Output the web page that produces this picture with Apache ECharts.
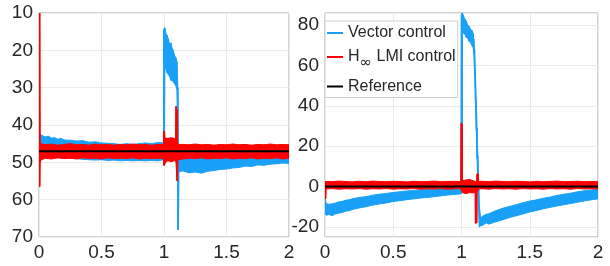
<!DOCTYPE html>
<html>
<head>
<meta charset="utf-8">
<script src="https://cdn.jsdelivr.net/npm/echarts@6/dist/echarts.min.js"></script>
<style>
  html, body { margin: 0; padding: 0; background: #fff; }
  #chart-container { width: 610px; height: 266px; }
</style>
</head>
<body>
<div id="chart-container"></div>
<script>
// series names
var nameVector = 'Vector control';
var nameHinf = 'H\u221e LMI control';
var nameRef = 'Reference';

// tick labels
var xTicks = [0, 0.5, 1, 1.5, 2];
var leftYTicks = [10, 20, 30, 40, 50, 60, 70];
var rightYTicks = [-20, 0, 20, 40, 60, 80];

// reference levels
var leftRef = 47;
var rightRef = 0;

// band envelopes: [t, low value, high value]
// left panel, vector control
var leftVector = [
  [0.000, 40.0, 49.0], [0.004, 42.5, 48.5], [0.025, 42.8, 48.4], [0.050, 43.2, 48.6],
  [0.075, 43.0, 48.5], [0.100, 43.5, 48.6], [0.125, 43.4, 48.7], [0.150, 43.8, 48.6],
  [0.175, 43.6, 48.8], [0.200, 44.0, 48.7], [0.250, 44.1, 48.9], [0.300, 44.3, 49.0],
  [0.350, 44.2, 49.2], [0.400, 44.6, 49.3], [0.450, 44.5, 49.4], [0.500, 44.8, 49.3],
  [0.550, 44.9, 49.5], [0.600, 45.0, 49.4], [0.650, 45.2, 49.6], [0.700, 45.0, 49.5],
  [0.750, 45.2, 49.6], [0.800, 45.0, 49.5], [0.850, 44.8, 49.6], [0.900, 45.0, 49.5],
  [0.950, 44.7, 49.6], [0.996, 44.8, 49.3],
  [0.999, 14.5, 49.0], [1.004, 14.0, 49.0], [1.007, 14.0, 24.0], [1.015, 15.5, 25.0],
  [1.025, 16.0, 26.0], [1.035, 17.0, 26.5], [1.045, 18.5, 27.0], [1.055, 18.0, 28.0],
  [1.065, 19.5, 28.0], [1.075, 20.0, 28.5], [1.085, 21.5, 29.0], [1.095, 22.0, 29.5],
  [1.103, 23.0, 30.5], [1.108, 27.0, 40.0], [1.111, 30.0, 68.0], [1.116, 47.0, 68.0],
  [1.120, 47.2, 52.5],
  [1.150, 47.3, 52.3], [1.200, 47.2, 52.8], [1.250, 47.3, 52.6], [1.300, 47.2, 52.9],
  [1.350, 47.3, 52.4], [1.400, 47.2, 52.2], [1.450, 47.3, 51.9], [1.500, 47.2, 51.8],
  [1.550, 47.3, 51.5], [1.600, 47.2, 51.4], [1.650, 47.3, 51.0], [1.700, 47.2, 51.1],
  [1.750, 47.3, 50.7], [1.800, 47.2, 50.8], [1.850, 47.3, 50.5], [1.900, 47.2, 50.4],
  [1.950, 47.3, 50.2], [2.000, 47.2, 50.3]
];

// left panel, H-infinity LMI control
var leftHinf = [
  [0.000, 10.0, 56.5], [0.006, 10.0, 56.5], [0.009, 45.0, 50.0], [0.015, 45.0, 49.4],
  [0.050, 45.3, 48.9],
  [0.100, 45.1, 49.1], [0.150, 45.4, 48.8], [0.200, 45.2, 49.0], [0.250, 45.0, 48.9],
  [0.300, 45.3, 49.1], [0.350, 45.2, 48.8], [0.400, 45.4, 49.0], [0.450, 45.1, 48.9],
  [0.500, 45.3, 49.1], [0.550, 45.2, 48.8], [0.600, 45.4, 49.0], [0.650, 45.2, 48.9],
  [0.700, 45.3, 49.0], [0.750, 45.1, 48.8], [0.800, 45.3, 49.1], [0.850, 45.2, 48.9],
  [0.900, 45.4, 49.0], [0.950, 45.2, 48.9], [0.995, 45.3, 49.0],
  [0.998, 41.7, 50.8], [1.004, 41.7, 50.8], [1.008, 43.5, 50.2], [1.030, 43.6, 49.6],
  [1.060, 43.4, 49.8], [1.090, 43.7, 49.5], [1.093, 43.8, 49.6], [1.096, 35.0, 50.0],
  [1.104, 36.0, 55.0], [1.108, 44.0, 55.0], [1.112, 45.2, 49.3], [1.150, 45.2, 49.1],
  [1.200, 45.3, 48.9], [1.250, 45.1, 49.0], [1.300, 45.3, 48.8], [1.350, 45.2, 49.1],
  [1.400, 45.4, 48.9], [1.450, 45.2, 49.0], [1.500, 45.3, 48.8], [1.550, 45.1, 49.1],
  [1.600, 45.3, 48.9], [1.650, 45.2, 49.0], [1.700, 45.4, 48.8], [1.750, 45.2, 49.1],
  [1.800, 45.3, 48.9], [1.850, 45.1, 49.0], [1.900, 45.3, 48.8], [1.950, 45.2, 49.1],
  [2.000, 45.3, 48.9]
];

// right panel, vector control
var rightVector = [
  [0.000, -13.5, -6.0], [0.010, -14.2, -8.5], [0.030, -13.8, -8.8], [0.050, -14.5, -8.6],
  [0.075, -13.6, -8.2], [0.100, -13.2, -7.6], [0.125, -12.9, -7.4], [0.150, -12.2, -6.8],
  [0.175, -12.0, -6.6], [0.200, -11.4, -6.1], [0.250, -10.6, -5.4], [0.300, -10.0, -5.0],
  [0.350, -9.2, -4.3], [0.400, -8.6, -3.8], [0.450, -8.1, -3.4], [0.500, -7.4, -2.9],
  [0.550, -7.0, -2.6], [0.600, -6.5, -2.2], [0.650, -6.1, -1.9], [0.700, -5.7, -1.6],
  [0.750, -5.4, -1.4], [0.800, -5.0, -1.2], [0.850, -4.6, -0.9], [0.900, -4.2, -0.7],
  [0.950, -3.9, -0.5], [0.996, -3.6, -0.3],
  [0.999, -3.5, 85.0], [1.004, -3.0, 86.0], [1.007, 77.0, 86.0], [1.015, 76.0, 84.5],
  [1.025, 75.5, 83.0], [1.035, 74.0, 82.0], [1.045, 73.5, 80.0], [1.055, 72.0, 79.5],
  [1.065, 71.5, 78.0], [1.075, 70.0, 77.5], [1.085, 69.0, 76.0], [1.090, 66.0, 73.0],
  [1.096, 55.0, 68.0], [1.102, 42.0, 56.0], [1.108, 28.0, 43.0], [1.114, 14.0, 29.0],
  [1.120, 0.0, 15.0], [1.126, -12.0, 2.0], [1.131, -20.0, -10.0], [1.140, -19.5, -15.5],
  [1.160, -19.0, -14.5], [1.180, -18.0, -13.8],
  [1.200, -18.6, -13.5], [1.250, -17.5, -12.0], [1.300, -16.5, -10.8], [1.350, -15.4, -9.9],
  [1.400, -14.5, -9.0], [1.450, -13.6, -8.0], [1.500, -12.6, -7.2], [1.550, -11.9, -6.6],
  [1.600, -11.0, -5.8], [1.650, -10.3, -5.2], [1.700, -9.6, -4.4], [1.750, -9.0, -3.8],
  [1.800, -8.4, -3.3], [1.850, -7.8, -2.6], [1.900, -7.1, -2.1], [1.950, -6.6, -1.7],
  [2.000, -6.1, -1.3]
];

// right panel, H-infinity LMI control
var rightHinf = [
  [0.000, -6.0, 2.5], [0.005, -6.0, 2.5], [0.008, -1.2, 2.6], [0.050, -1.0, 2.4],
  [0.100, -1.3, 2.7],
  [0.150, -1.1, 2.5], [0.200, -1.2, 2.3], [0.250, -1.0, 2.6], [0.300, -1.3, 2.4],
  [0.350, -1.1, 2.7], [0.400, -1.2, 2.5], [0.450, -1.0, 2.4], [0.500, -1.3, 2.6],
  [0.550, -1.1, 2.5], [0.600, -1.2, 2.3], [0.650, -1.0, 2.6], [0.700, -1.3, 2.4],
  [0.750, -1.1, 2.5], [0.800, -1.2, 2.7], [0.850, -1.0, 2.4], [0.900, -1.3, 2.5],
  [0.950, -1.1, 2.6], [0.995, -1.0, 2.4],
  [0.998, -2.0, 31.5], [1.004, -2.0, 31.0], [1.007, -3.0, 3.0], [1.030, -3.5, 3.2],
  [1.060, -3.0, 3.5], [1.090, -3.2, 2.8], [1.100, -2.5, 2.5], [1.102, -18.2, 2.5],
  [1.112, -18.0, 2.5], [1.114, -2.5, 6.3], [1.122, -2.0, 6.2], [1.125, -1.2, 2.5],
  [1.150, -1.1, 2.6],
  [1.200, -1.3, 2.4], [1.250, -1.0, 2.7], [1.300, -1.2, 2.5], [1.350, -1.1, 2.4],
  [1.400, -1.3, 2.6], [1.450, -1.0, 2.5], [1.500, -1.2, 2.3], [1.550, -1.1, 2.6],
  [1.600, -1.3, 2.4], [1.650, -1.0, 2.5], [1.700, -1.2, 2.7], [1.750, -1.1, 2.4],
  [1.800, -1.3, 2.5], [1.850, -1.0, 2.6], [1.900, -1.2, 2.4], [1.950, -1.1, 2.5],
  [2.000, -1.2, 2.4]
];

var blue = '#19a1f7';
var red = '#ff0000';
var black = '#000000';
var textColor = '#262626';
var fontFam = '"Liberation Sans", Arial, sans-serif';

// one band = quads between consecutive envelope samples
function bandSeries(name, color, pts, idx, z) {
  return {
    type: 'custom',
    name: name,
    xAxisIndex: idx,
    yAxisIndex: idx,
    z: z,
    silent: true,
    animation: false,
    clip: true,
    itemStyle: { color: color },
    encode: { x: 0, y: [1, 2] },
    data: pts,
    renderItem: function (params, api) {
      var i = params.dataIndex;
      if (i >= pts.length - 1) return null;
      var a = pts[i], b = pts[i + 1];
      var poly = [
        api.coord([a[0], a[1]]),
        api.coord([b[0], b[1]]),
        api.coord([b[0], b[2]]),
        api.coord([a[0], a[2]])
      ];
      return {
        type: 'polygon',
        shape: { points: poly },
        style: { fill: color, stroke: color, lineWidth: 1 }
      };
    }
  };
}

function refSeries(level, idx) {
  return {
    type: 'line',
    name: nameRef,
    xAxisIndex: idx,
    yAxisIndex: idx,
    z: 10,
    silent: true,
    animation: false,
    symbol: 'none',
    lineStyle: { color: black, width: 2 },
    itemStyle: { color: black },
    data: [[xTicks[0], level], [xTicks[xTicks.length - 1], level]]
  };
}

function xAxisCfg(idx) {
  return {
    type: 'value',
    gridIndex: idx,
    min: xTicks[0],
    max: xTicks[xTicks.length - 1],
    interval: 0.5,
    axisLine: { show: false },
    axisTick: { show: false },
    splitLine: { show: true, lineStyle: { color: '#ebebeb', width: 1 } },
    axisLabel: { color: textColor, fontSize: 19, fontFamily: fontFam, margin: 6 }
  };
}

var dom = document.getElementById('chart-container');
var myChart = echarts.init(dom, null, { renderer: 'canvas' });

var option = {
  animation: false,
  grid: [
    { left: 39, top: 13, width: 250, height: 224, show: true, borderColor: '#a6a6a6', borderWidth: 1, backgroundColor: 'transparent' },
    { left: 325, top: 13, width: 273, height: 224, show: true, borderColor: '#a6a6a6', borderWidth: 1, backgroundColor: 'transparent' }
  ],
  xAxis: [xAxisCfg(0), xAxisCfg(1)],
  yAxis: [
    {
      type: 'value',
      gridIndex: 0,
      inverse: true,
      min: leftYTicks[0],
      max: leftYTicks[leftYTicks.length - 1],
      interval: 10,
      axisLine: { show: false },
      axisTick: { show: false },
      splitLine: { show: true, lineStyle: { color: '#ebebeb', width: 1 } },
      axisLabel: { color: textColor, fontSize: 19, fontFamily: fontFam, margin: 6 }
    },
    {
      type: 'value',
      gridIndex: 1,
      min: -25,
      max: 86,
      splitNumber: rightYTicks.length - 1,
      axisLine: { show: false },
      axisTick: { show: false },
      splitLine: { show: true, lineStyle: { color: '#ebebeb', width: 1 } },
      axisLabel: {
        color: textColor, fontSize: 19, fontFamily: fontFam, margin: 6,
        showMinLabel: false, showMaxLabel: false,
        formatter: function (v) { return rightYTicks.indexOf(v) >= 0 ? String(v) : ''; }
      }
    }
  ],
  legend: {
    orient: 'vertical',
    left: 325,
    top: 21,
    padding: [4, 2, 3, 2],
    itemGap: 8,
    itemWidth: 16,
    itemHeight: 2,
    itemTextGap: 2,
    backgroundColor: '#fff',
    borderColor: '#d0d0d0',
    borderWidth: 1,
    borderRadius: 0,
    selectedMode: false,
    data: [
      { name: nameVector, icon: 'rect' },
      { name: nameHinf, icon: 'rect' },
      { name: nameRef, icon: 'rect' }
    ],
    formatter: function (name) {
      if (name === nameHinf) return '{a|H}{b|\u221e}{a| LMI control}';
      return name;
    },
    textStyle: {
      color: textColor,
      fontSize: 16,
      fontFamily: fontFam,
      rich: {
        a: { color: textColor, fontSize: 16, fontFamily: fontFam },
        b: { color: textColor, fontSize: 15, fontFamily: '"DejaVu Sans", sans-serif', padding: [12, 0, 0, 0] }
      }
    }
  },
  series: [
    bandSeries(nameVector, blue, leftVector, 0, 2),
    bandSeries(nameHinf, red, leftHinf, 0, 3),
    refSeries(leftRef, 0),
    bandSeries(nameVector, blue, rightVector, 1, 2),
    bandSeries(nameHinf, red, rightHinf, 1, 3),
    refSeries(rightRef, 1)
  ]
};

myChart.setOption(option);
window.addEventListener('resize', myChart.resize);
</script>
</body>
</html>
